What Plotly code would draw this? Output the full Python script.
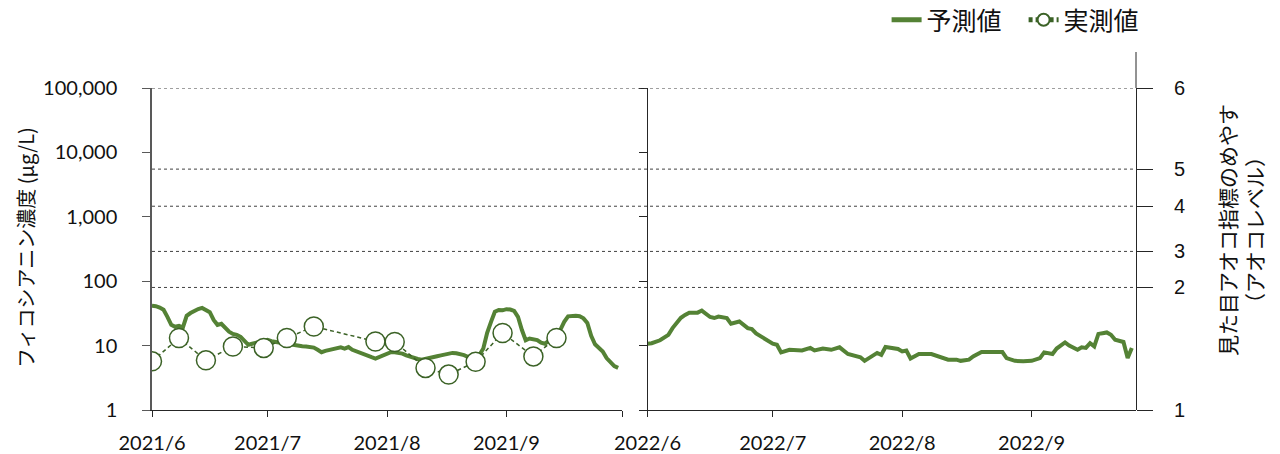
import plotly.graph_objects as go
import pandas as pd

# ---------------- data ----------------
pred_2021_dates = pd.date_range("2021-06-01", "2021-09-30", freq="D")
pred_2021 = [41.5, 41, 39, 36, 28, 21, 19.6, 20.3, 19, 29,
             32, 34.5, 37, 38.5, 36, 33, 25, 21, 21.8, 19.2,
             16.4, 15.2, 14.7, 13.7, 11.8, 10.3, 10.7, 11.1, 11.4, 11.7,
             12.3, 11.7, 11.4, 11.1, 10.9, 10.7, 10.3, 10.2, 10, 9.8,
             9.7, 9.4, 9.3, 8.6, 7.9, 8.3, 8.6, 8.8, 9.0, 9.4,
             9.0, 9.5, 8.6, 8.1, 7.7, 7.2, 7.0, 6.6, 6.3, 6.7,
             7.2, 7.6, 7.9, 7.85, 7.7, 7.5, 7.05, 6.7, 6.4, 6.2,
             6.05, 6.2, 6.3, 6.6, 6.85, 7.05, 7.3, 7.5, 7.7, 7.6,
             7.4, 7.1, 6.7, 6.4, 6.6, 7.2, 9.0, 15.8, 23.4, 33.5,
             35.8, 35.3, 36.8, 36.3, 34.5, 28, 17.6, 12.1, 12.9, 12.6,
             12.2, 11.1, 10.7, 11.9, 13.2, 14.2, 17.6, 23.4, 28.5, 29,
             29, 28.5, 26.5, 22.5, 14.2, 10.5, 9.4, 8.1, 6.4, 5.4,
             4.8, 4.5]

obs_2021_dates = ["2021-06-01", "2021-06-08", "2021-06-15", "2021-06-22", "2021-06-30",
                  "2021-07-06", "2021-07-13", "2021-07-29", "2021-08-03", "2021-08-11",
                  "2021-08-17", "2021-08-24", "2021-08-31", "2021-09-08", "2021-09-14"]
obs_2021 = [5.7, 13.1, 5.9, 9.7, 9.2, 13.1, 19.8, 11.6, 11.4, 4.5, 3.55, 5.6, 15.7, 6.8, 13.1]

pred_2022_dates = ["2022-06-01", "2022-06-02", "2022-06-04", "2022-06-06", "2022-06-07",
                   "2022-06-08", "2022-06-09", "2022-06-10", "2022-06-11", "2022-06-13",
                   "2022-06-14", "2022-06-16", "2022-06-17", "2022-06-18", "2022-06-20",
                   "2022-06-21", "2022-06-23", "2022-06-25", "2022-06-26", "2022-06-27",
                   "2022-06-29", "2022-07-01", "2022-07-02", "2022-07-03", "2022-07-05",
                   "2022-07-08", "2022-07-10", "2022-07-11", "2022-07-13", "2022-07-15",
                   "2022-07-17", "2022-07-19", "2022-07-22", "2022-07-23", "2022-07-26",
                   "2022-07-27", "2022-07-28", "2022-07-30", "2022-07-31", "2022-08-01",
                   "2022-08-02", "2022-08-03", "2022-08-05", "2022-08-08", "2022-08-10",
                   "2022-08-12", "2022-08-14", "2022-08-15", "2022-08-17", "2022-08-18",
                   "2022-08-20", "2022-08-22", "2022-08-23", "2022-08-25", "2022-08-26",
                   "2022-08-28", "2022-08-30", "2022-09-01", "2022-09-03", "2022-09-04",
                   "2022-09-06", "2022-09-07", "2022-09-09", "2022-09-10", "2022-09-12",
                   "2022-09-13", "2022-09-14", "2022-09-15", "2022-09-16", "2022-09-17",
                   "2022-09-18", "2022-09-19", "2022-09-20", "2022-09-21", "2022-09-23",
                   "2022-09-24", "2022-09-25"]
pred_2022 = [10.7, 10.9, 12.1, 14.7, 18.7,
             23, 27, 30, 32.5, 32.5,
             35, 27.8, 26.8, 28.3, 26.8,
             21.8, 23.7, 18.7, 18.1, 15.5,
             13.1, 10.7, 10.3, 7.85, 8.6,
             8.4, 9.2, 8.4, 9.0, 8.6,
             9.4, 7.4, 6.6, 5.8, 7.7,
             7.2, 9.5, 9.0, 8.85, 8.1,
             8.4, 6.3, 7.4, 7.4, 6.8,
             6.05, 6.05, 5.8, 6.05, 6.8,
             7.95, 7.95, 8.1, 7.95, 6.4,
             5.8, 5.7, 5.8, 6.4, 7.85,
             7.4, 9.0, 11.2, 10, 8.6,
             9.4, 9.2, 10.9, 9.7, 15.2,
             15.6, 16, 14.7, 12.3, 11.4,
             6.4, 9.2]

# アオコレベル thresholds (μg/L) and level labels
level_values = [1, 80, 290, 1460, 5500, 100000]
level_labels = ["1", "2", "3", "4", "5", "6"]

y_tickvals = [1, 10, 100, 1000, 10000, 100000]
y_ticktext = ["1", "10", "100", "1,000", "10,000", "100,000"]

x1_tickvals = ["2021-06-01", "2021-07-01", "2021-08-01", "2021-09-01", "2021-10-01"]
x1_ticktext = ["2021/6", "2021/7", "2021/8", "2021/9", ""]
x2_tickvals = ["2022-06-01", "2022-07-01", "2022-08-01", "2022-09-01"]
x2_ticktext = ["2022/6", "2022/7", "2022/8", "2022/9"]

# ---------------- styles ----------------
PRED = "#548235"
OBS = "#3B6226"
JP = "Noto Sans CJK JP"
NUM = "Lato"
AX = "#262626"

fig = go.Figure()

# threshold dotted lines spanning both panels
for v in level_values[1:]:
    fig.add_trace(go.Scatter(x=[0, 1], y=[v, v], xaxis="x3", yaxis="y", mode="lines",
                             line=dict(color="#404040", width=1, dash="3px,3px"),
                             showlegend=False, hoverinfo="skip"))

fig.add_trace(go.Scatter(x=pred_2021_dates, y=pred_2021, xaxis="x", yaxis="y", mode="lines",
                         name="予測値", legendgroup="pred",
                         line=dict(color=PRED, width=4)))
fig.add_trace(go.Scatter(x=obs_2021_dates, y=obs_2021, xaxis="x", yaxis="y", mode="lines+markers",
                         name="実測値", legendgroup="obs",
                         line=dict(color=OBS, width=1.5, dash="4px,3px"),
                         marker=dict(symbol="circle", size=19, color="white",
                                     line=dict(color=OBS, width=1.5))))
fig.add_trace(go.Scatter(x=pred_2022_dates, y=pred_2022, xaxis="x2", yaxis="y2", mode="lines",
                         name="予測値", legendgroup="pred", showlegend=False,
                         line=dict(color=PRED, width=4)))
# carrier for the right-hand level axis
fig.add_trace(go.Scatter(x=[None], y=[None], xaxis="x2", yaxis="y3", showlegend=False,
                         hoverinfo="skip"))

W, H = 1280, 454
L, R, T, B = 152, 1136, 88, 410
pw = R - L
split1 = (622 - L) / pw
split2 = (647.5 - L) / pw

tickfont = dict(family=NUM, size=20, color="#111")

fig.update_layout(
    width=W, height=H,
    margin=dict(l=L, r=W - R, t=T, b=H - B, pad=0, autoexpand=False),
    paper_bgcolor="white", plot_bgcolor="rgba(0,0,0,0)",
    showlegend=True,
    legend=dict(orientation="h", x=1.025, xanchor="right", y=(B - 20) / (B - T), yanchor="middle",
                font=dict(family=JP, size=25, color="#111"), bgcolor="rgba(0,0,0,0)",
                itemsizing="constant", traceorder="normal", tracegroupgap=0,
                entrywidth=92),
    xaxis=dict(domain=[0, split1], type="date", range=["2021-06-01", "2021-10-01"],
               tickvals=x1_tickvals, ticktext=x1_ticktext, ticks="outside", ticklen=6,
               tickcolor=AX, showline=True, linecolor=AX, linewidth=1, showgrid=False,
               zeroline=False, tickfont=tickfont, anchor="y", ticklabelstandoff=9),
    xaxis2=dict(domain=[split2, 1], type="date", range=["2022-06-01", "2022-09-26"],
                tickvals=x2_tickvals, ticktext=x2_ticktext, ticks="outside", ticklen=6,
                tickcolor=AX, showline=True, linecolor=AX, linewidth=1, showgrid=False,
                zeroline=False, tickfont=tickfont, anchor="y2", ticklabelstandoff=9),
    xaxis3=dict(domain=[0, 1], range=[0, 1], visible=False, anchor="y", fixedrange=True),
    yaxis=dict(domain=[0, 1], type="log", range=[0, 5], tickvals=y_tickvals,
               ticktext=y_ticktext, ticks="outside", ticklen=8, tickcolor="#595959",
               showline=True, linecolor="#595959", linewidth=1.5, showgrid=False,
               zeroline=False, tickfont=tickfont, anchor="x", ticklabelstandoff=21),
    yaxis2=dict(domain=[0, 1], type="log", range=[0, 5], tickvals=y_tickvals,
                showticklabels=False, ticks="outside", ticklen=8, tickcolor=AX,
                showline=True, linecolor=AX, linewidth=1, showgrid=False,
                zeroline=False, anchor="x2"),
    yaxis3=dict(type="log", range=[0, 5], overlaying="y", side="right", anchor="x2",
                tickvals=level_values, ticktext=level_labels, ticks="outside", ticklen=16,
                tickcolor=AX, showline=True, linecolor=AX, linewidth=1, showgrid=False,
                zeroline=False, tickfont=dict(family="Liberation Sans", size=20, color="#111"),
                ticklabelstandoff=17),
)

# right axis line extends above the plot area
fig.add_shape(type="line", xref="paper", yref="paper", x0=1, x1=1, y0=1, y1=(B - 52) / (B - T),
              line=dict(color=AX, width=1))

fig.add_annotation(text="フィコシアニン濃度 (μg/L)", xref="paper", yref="paper",
                   x=(25 - L) / pw, y=(B - 248) / (B - T), textangle=-90, showarrow=False,
                   xanchor="center", yanchor="middle",
                   font=dict(family=JP, size=20, color="#111"))
fig.add_annotation(text="見た目アオコ指標のめやす<br>（アオコレベル）", xref="paper", yref="paper",
                   x=(1240 - L) / pw, y=(B - 230) / (B - T), textangle=-90, showarrow=False,
                   xanchor="center", yanchor="middle", align="center",
                   font=dict(family=JP, size=21, color="#111"))

fig.write_html("out.html", config={"displayModeBar": False},
               post_script="document.body.style.margin='0';")
